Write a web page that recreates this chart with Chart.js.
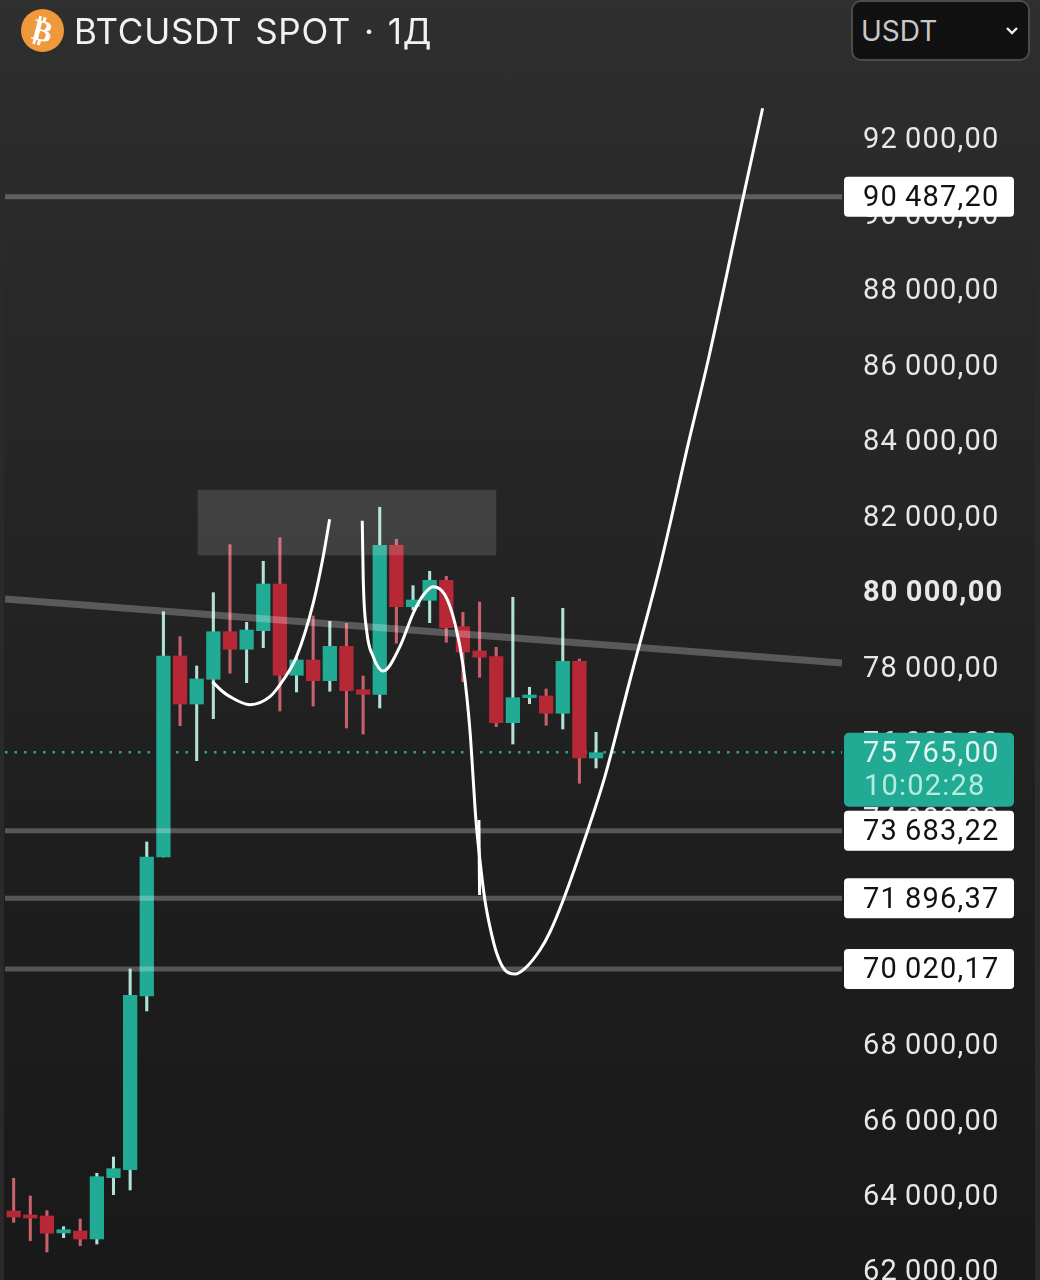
<!DOCTYPE html>
<html>
<head>
<meta charset="utf-8">
<script src="https://cdn.jsdelivr.net/npm/chart.js@4/dist/chart.umd.min.js"></script>
<style>
  html, body { margin: 0; padding: 0; }
  body {
    width: 1040px; height: 1280px; overflow: hidden; position: relative;
    background: linear-gradient(#2f2f2f 0, #2b2b2b 150px, #252525 500px, #1e1e1e 850px, #191919 1280px);
    font-family: Inter, "Noto Sans", sans-serif;
  }
  #myChart { position: absolute; left: 0; top: 0; }
  .edge { position: absolute; top: 150px; bottom: 0; background: #2a2a2a; }
  .coin {
    position: absolute; left: 21px; top: 9px; width: 43px; height: 43px; border-radius: 50%;
    background: #f0993a; color: #fff; font: bold 30px/43px "DejaVu Sans"; text-align: center;
  }
  .coin span { display: block; transform: rotate(14deg); }
  .title { position: absolute; left: 74px; top: 9px; font-size: 35px; line-height: 44px; color: #f2f2f2; white-space: nowrap; letter-spacing: 0.7px; word-spacing: 2.4px; }
  .picker {
    position: absolute; left: 851px; top: 0; height: 57px; border: 2px solid #4b4b4b; border-radius: 10px;
    background: #111; color: #c8c8c8; font-size: 28px; line-height: 59px; padding-left: 8px; width: 167px;
  }
  .picker svg { position: absolute; right: 9px; top: 24px; }
</style>
</head>
<body>
<div class="edge" style="left:0;width:4px"></div>
<div class="edge" style="right:0;width:5px"></div>
<canvas id="myChart" width="1040" height="1280"></canvas>
<div class="coin"><span>₿</span></div>
<div class="title">BTCUSDT SPOT · 1Д</div>
<div class="picker">USDT<svg width="14" height="10"><path d="M2 2 L7 7 L12 2" fill="none" stroke="#eee" stroke-width="2.4"/></svg></div>
<script>
// one entry per daily candle, left to right
const opens  = [63610, 63504, 63477, 63027, 63080, 62868, 64492, 64704, 69307, 72991, 78317, 77045, 77700, 78961, 78495, 78988, 80225, 77806, 78211, 77663, 78574, 77424, 77302, 81251, 79624, 79793, 80323, 79094, 78450, 78299, 76550, 77212, 77257, 76799, 78177, 75614];
const closes = [63451, 63424, 63019, 63114, 62868, 64519, 64731, 69326, 72991, 78317, 77045, 77708, 78961, 78495, 79006, 80225, 77806, 78211, 77663, 78574, 77398, 77302, 81251, 79624, 79801, 80323, 79067, 78423, 78283, 76550, 77212, 77284, 76799, 78177, 75614, 75755];
const highs  = [64476, 64007, 63618, 63194, 63398, 64609, 65041, 70023, 73388, 79491, 78829, 78052, 79995, 81267, 79210, 80827, 81452, 78264, 79377, 79237, 79184, 77787, 82258, 81410, 80180, 80562, 80429, 79475, 79748, 78548, 79873, 77488, 77443, 79581, 78238, 76295];
const lows   = [63310, 62823, 62523, 62902, 62690, 62735, 64042, 64166, 68910, 72991, 76470, 75543, 76656, 77859, 77610, 78537, 76860, 77363, 76992, 77382, 76409, 76250, 76939, 78654, 79536, 79200, 78680, 77636, 77753, 76444, 75985, 77053, 76481, 76383, 74944, 75349];

const tickValues = [62000, 64000, 66000, 68000, 70000, 72000, 74000, 76000, 78000, 80000, 82000, 84000, 86000, 88000, 90000, 92000];
const tickLabels = ['62\u2009000,00', '64\u2009000,00', '66\u2009000,00', '68\u2009000,00', '70\u2009000,00', '72\u2009000,00', '74\u2009000,00', '76\u2009000,00', '78\u2009000,00', '80\u2009000,00', '82\u2009000,00', '84\u2009000,00', '86\u2009000,00', '88\u2009000,00', '90\u2009000,00', '92\u2009000,00'];

const levelValues = [90487.2, 73683.22, 71896.37, 70020.17];
const levelLabels = ['90\u2009487,20', '73\u2009683,22', '71\u2009896,37', '70\u2009020,17'];

const lastPrice = 75765;
const lastPriceLabel = '75\u2009765,00';
const countdown = '10:02:28';

// hand drawn lines, x in candle numbers
const trendX = [-0.52, 49.78];
const trendY = [79828, 78132];
const zoneX = 20.03;
const zoneY = [80994, 82716];

const cupX = [11.94, 12.52, 13.0, 14.2, 15.4, 16.2, 17.0, 18.0, 18.6, 18.99];
const cupY = [77636, 77390, 77239, 77027, 77239, 77681, 78299, 79714, 80949, 81940];

const swingX = [20.95, 21.01, 21.21, 21.61, 22.21, 23.21, 24.01, 24.62, 25.22, 25.92, 26.52, 27.02, 27.42, 27.62, 27.78, 28.02, 28.32, 28.62, 29.03, 29.52, 30.13, 30.73, 31.63, 32.23, 33.03, 34.44, 35.53, 37.04, 38.84, 40.64, 41.74, 43.85, 45.01];
const swingY = [81903, 80331, 79006, 78299, 77920, 78564, 79449, 79934, 80154, 79934, 79184, 78034, 76356, 75031, 73971, 72911, 71851, 71144, 70439, 69996, 69890, 70041, 70526, 71003, 71851, 73619, 75119, 77681, 80684, 84129, 86161, 90489, 92831];

const strokeX = [27.96, 28.0];
const strokeY = [73971, 71984];

const GREEN = '#22ab94';
const RED = '#b72837';
const FONT = 'Roboto, Inter, sans-serif';
const xMin = -0.52, xMax = 49.78;

const pairs = (xs, ys) => xs.map((x, i) => ({ x: x, y: ys[i] }));
const flatLine = (v) => [{ x: xMin, y: v }, { x: xMax, y: v }];

const priceTags = {
  id: 'priceTags',
  beforeDraw(chart) {
    chart.ctx.letterSpacing = '1.2px';
  },
  afterDraw(chart) {
    const ctx = chart.ctx;
    const y = chart.scales.y;
    ctx.save();
    ctx.textBaseline = 'middle';
    ctx.textAlign = 'left';
    ctx.font = '29px ' + FONT;
    levelValues.forEach((v, i) => {
      const py = y.getPixelForValue(v);
      ctx.fillStyle = '#fff';
      ctx.beginPath();
      ctx.roundRect(844, py - 20, 170, 40, 4);
      ctx.fill();
      ctx.fillStyle = '#111';
      ctx.fillText(levelLabels[i], 863, py + 2);
    });
    const py = y.getPixelForValue(lastPrice);
    ctx.fillStyle = GREEN;
    ctx.beginPath();
    ctx.roundRect(844, py - 19.5, 170, 74, 5);
    ctx.fill();
    ctx.fillStyle = '#e2f6f1';
    ctx.fillText(lastPriceLabel, 863, py + 2);
    ctx.fillStyle = '#b4ebdd';
    ctx.fillText(countdown, 864, py + 35);
    ctx.restore();
  }
};

new Chart(document.getElementById('myChart'), {
  type: 'bar',
  data: {
    datasets: [
      { type: 'bar', order: 8, grouped: false, barThickness: 2.4,
        data: highs.map((h, i) => ({ x: i, y: [lows[i], h] })),
        backgroundColor: opens.map((o, i) => closes[i] >= o ? '#b2e2d7' : '#c9606b') },
      { type: 'bar', order: 7, grouped: false, barThickness: 13.6,
        data: opens.map((o, i) => ({ x: i, y: [o, closes[i]] })),
        backgroundColor: opens.map((o, i) => closes[i] >= o ? GREEN : RED) },
      { type: 'bar', order: 6, grouped: false, barThickness: 298,
        data: [{ x: zoneX, y: zoneY }],
        backgroundColor: 'rgba(255,255,255,0.13)' },
      { type: 'line', order: 9, data: flatLine(lastPrice), borderColor: GREEN, borderWidth: 2.5, borderDash: [2.5, 7], pointRadius: 0 },
      ...levelValues.map((v) => (
        { type: 'line', order: 5, data: flatLine(v), borderColor: 'rgba(255,255,255,0.25)', borderWidth: 5, pointRadius: 0 }
      )),
      { type: 'line', order: 4, data: pairs(trendX, trendY), borderColor: 'rgba(255,255,255,0.25)', borderWidth: 7, pointRadius: 0 },
      { type: 'line', order: 3, data: pairs(cupX, cupY), borderColor: '#fff', borderWidth: 3, pointRadius: 0, cubicInterpolationMode: 'monotone' },
      { type: 'line', order: 2, data: pairs(swingX, swingY), borderColor: '#fff', borderWidth: 3, pointRadius: 0, cubicInterpolationMode: 'monotone' },
      { type: 'line', order: 1, data: pairs(strokeX, strokeY), borderColor: '#fff', borderWidth: 3, pointRadius: 0 }
    ]
  },
  options: {
    responsive: false,
    animation: false,
    devicePixelRatio: 1,
    layout: { padding: { left: 5, top: 70, right: 0, bottom: 0 } },
    plugins: { legend: { display: false }, tooltip: { enabled: false } },
    scales: {
      x: { type: 'linear', min: xMin, max: xMax, offset: false, display: false },
      y: {
        position: 'right',
        min: 61781,
        max: 93846,
        grid: { display: false, drawTicks: false },
        border: { display: false },
        afterFit(scale) {
          scale.width = 198;
          scale.paddingTop = 0;
          scale.paddingBottom = 0;
        },
        afterBuildTicks(scale) { scale.ticks = tickValues.map((v) => ({ value: v })); },
        ticks: {
          autoSkip: false,
          padding: 21,
          labelOffset: 1.5,
          color: '#e8e8e8',
          font: (c) => ({ family: FONT, size: 29, weight: c.tick && c.tick.value === 80000 ? 'bold' : 'normal' }),
          callback: (v, i) => tickLabels[i]
        }
      }
    }
  },
  plugins: [priceTags]
});
</script>
</body>
</html>
